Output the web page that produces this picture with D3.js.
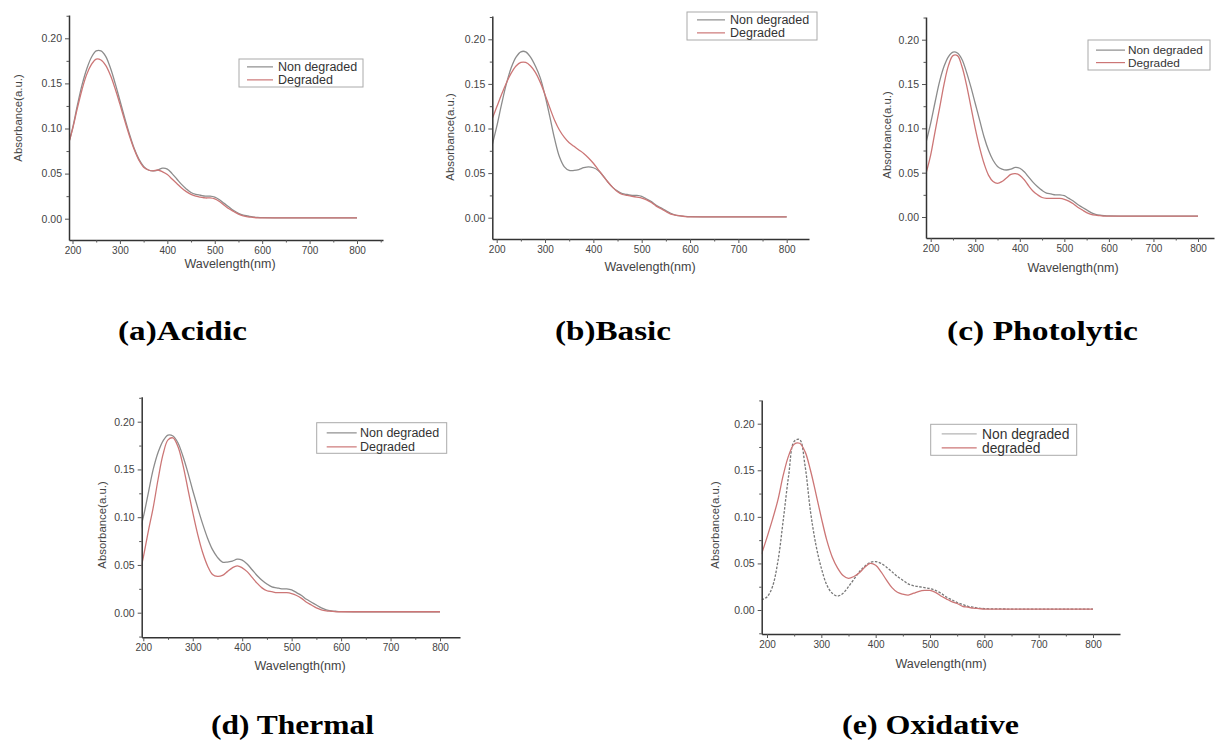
<!DOCTYPE html>
<html>
<head>
<meta charset="utf-8">
<script src="https://cdn.jsdelivr.net/npm/d3@7"></script>
<style>
  body { margin: 0; background: #fff; }
  svg { display: block; }
  .tick text { font-family: "Liberation Sans", Arial, sans-serif; fill: #444; }
</style>
</head>
<body>
<svg id="chart" width="1216" height="743"></svg>
<script>
// longueurs d'onde communes (nm)
const wl = [190, 200, 210, 220, 230, 240, 250, 260, 270, 280, 290, 300, 310, 320, 330, 340, 350, 360, 370, 380,
  390, 400, 410, 420, 430, 440, 450, 460, 470, 480, 490, 500, 510, 520, 530, 540, 550, 560, 570, 580, 590, 600,
  650, 700, 750, 800];

// absorbances
const acidicNon = [0.080, 0.100, 0.125, 0.148, 0.166, 0.179, 0.186, 0.186, 0.180, 0.167, 0.150, 0.131, 0.112, 0.094, 0.078,
  0.066, 0.058, 0.054, 0.053, 0.054, 0.056, 0.055, 0.050, 0.044, 0.038, 0.033, 0.029, 0.027, 0.026, 0.025, 0.025, 0.024,
  0.021, 0.017, 0.013, 0.009, 0.006, 0.004, 0.003, 0.002, 0.0015, 0.0012, 0.001, 0.001, 0.001, 0.001];
const acidicDeg = [0.080, 0.099, 0.122, 0.143, 0.160, 0.171, 0.177, 0.176, 0.170, 0.159, 0.144, 0.127, 0.109, 0.092, 0.077,
  0.065, 0.057, 0.054, 0.053, 0.054, 0.052, 0.049, 0.044, 0.039, 0.034, 0.030, 0.027, 0.025, 0.024, 0.023, 0.023, 0.022,
  0.019, 0.015, 0.011, 0.008, 0.005, 0.003, 0.002, 0.0015, 0.001, 0.001, 0.001, 0.001, 0.001, 0.001];

const basicNon = [0.080, 0.102, 0.127, 0.150, 0.168, 0.180, 0.186, 0.186, 0.180, 0.170, 0.157, 0.137, 0.113, 0.088, 0.068,
  0.057, 0.053, 0.053, 0.054, 0.056, 0.057, 0.056, 0.053, 0.047, 0.040, 0.034, 0.030, 0.027, 0.026, 0.025, 0.025, 0.024,
  0.021, 0.018, 0.014, 0.011, 0.008, 0.005, 0.003, 0.002, 0.0015, 0.0012, 0.001, 0.001, 0.001, 0.001];
const basicDeg = [0.110, 0.124, 0.138, 0.151, 0.162, 0.170, 0.174, 0.174, 0.170, 0.163, 0.152, 0.138, 0.123, 0.109, 0.098,
  0.090, 0.084, 0.080, 0.076, 0.072, 0.067, 0.061, 0.054, 0.047, 0.040, 0.034, 0.029, 0.026, 0.025, 0.024, 0.023, 0.022,
  0.020, 0.017, 0.013, 0.010, 0.007, 0.004, 0.003, 0.002, 0.0013, 0.001, 0.001, 0.001, 0.001, 0.001];

const photoNon = [0.085, 0.106, 0.130, 0.153, 0.170, 0.181, 0.186, 0.185, 0.178, 0.164, 0.147, 0.128, 0.109, 0.090, 0.075,
  0.064, 0.057, 0.054, 0.053, 0.054, 0.056, 0.055, 0.051, 0.045, 0.039, 0.034, 0.030, 0.027, 0.026, 0.025, 0.025, 0.024,
  0.021, 0.018, 0.014, 0.011, 0.008, 0.005, 0.003, 0.002, 0.0015, 0.0012, 0.001, 0.001, 0.001, 0.001];
const photoDeg = [0.050, 0.070, 0.097, 0.123, 0.150, 0.171, 0.182, 0.182, 0.170, 0.150, 0.125, 0.100, 0.078, 0.060, 0.047,
  0.040, 0.038, 0.040, 0.044, 0.048, 0.049, 0.047, 0.042, 0.035, 0.029, 0.025, 0.022, 0.021, 0.021, 0.021, 0.021, 0.020,
  0.018, 0.015, 0.011, 0.008, 0.005, 0.003, 0.002, 0.0015, 0.001, 0.001, 0.001, 0.001, 0.001, 0.001];

const thermalNon = [0.080, 0.100, 0.125, 0.150, 0.168, 0.180, 0.186, 0.185, 0.178, 0.164, 0.147, 0.128, 0.110, 0.093, 0.078,
  0.066, 0.058, 0.053, 0.053, 0.054, 0.056, 0.055, 0.051, 0.045, 0.039, 0.034, 0.030, 0.027, 0.026, 0.025, 0.025, 0.024,
  0.021, 0.018, 0.014, 0.011, 0.008, 0.005, 0.003, 0.002, 0.0015, 0.0012, 0.001, 0.001, 0.001, 0.001];
const thermalDeg = [0.035, 0.058, 0.085, 0.110, 0.140, 0.166, 0.181, 0.183, 0.174, 0.155, 0.130, 0.105, 0.082, 0.063, 0.049,
  0.040, 0.038, 0.039, 0.043, 0.047, 0.049, 0.047, 0.043, 0.037, 0.031, 0.026, 0.023, 0.022, 0.021, 0.021, 0.021, 0.020,
  0.018, 0.015, 0.011, 0.008, 0.005, 0.003, 0.002, 0.0015, 0.001, 0.001, 0.001, 0.001, 0.001, 0.001];

const oxidNon = [0.011, 0.014, 0.025, 0.052, 0.097, 0.145, 0.181, 0.183, 0.155, 0.106, 0.070, 0.045, 0.027, 0.018, 0.015,
  0.018, 0.025, 0.033, 0.041, 0.047, 0.051, 0.052, 0.050, 0.046, 0.041, 0.036, 0.032, 0.028, 0.026, 0.025, 0.024, 0.023,
  0.021, 0.018, 0.014, 0.011, 0.008, 0.006, 0.004, 0.003, 0.002, 0.0015, 0.001, 0.001, 0.001, 0.001];
const oxidDeg = [0.060, 0.078, 0.097, 0.118, 0.145, 0.166, 0.178, 0.179, 0.170, 0.150, 0.125, 0.099, 0.075, 0.057, 0.045,
  0.037, 0.034, 0.036, 0.040, 0.046, 0.050, 0.048, 0.041, 0.032, 0.024, 0.019, 0.017, 0.016, 0.018, 0.020, 0.021, 0.021,
  0.019, 0.015, 0.012, 0.009, 0.007, 0.004, 0.003, 0.002, 0.0015, 0.001, 0.001, 0.001, 0.001, 0.001];

const xTicks = [200, 300, 400, 500, 600, 700, 800];
const xMinor = [250, 350, 450, 550, 650, 750, 850];
const yTicks = [0, 0.05, 0.10, 0.15, 0.20];
const yMinor = [-0.025, 0.025, 0.075, 0.125, 0.175, 0.225];

const grayLine = "#8c8c8c", redLine = "#cc7676";

// disposition de chaque panneau (pixels)
const panels = [
  { non: acidicNon, deg: acidicDeg, labels: ["Non degraded", "Degraded"], title: "(a)Acidic",
    left: 69, top: 15, bottom: 240, right: 383, x200: 72.5, x800: 357, y0: 218.7, y20: 38.3,
    legend: { x: 239, y: 59, w: 124, h: 28, lx: 247, lw: 26, tx: 278, fs: 12.5, r1: 71, r2: 84 },
    xt: { x: 230, y: 268 }, yt: { x: 22, y: 118 },
    ti: { x: 118, y: 340, w: 129 } },
  { non: basicNon, deg: basicDeg, labels: ["Non degraded", "Degraded"], title: "(b)Basic",
    left: 492.3, top: 16, bottom: 239, right: 809, x200: 496.7, x800: 786.7, y0: 217.7, y20: 39.3,
    legend: { x: 687, y: 12, w: 130, h: 28, lx: 697, lw: 28, tx: 730, fs: 12.5, r1: 24, r2: 37 },
    xt: { x: 650, y: 271 }, yt: { x: 454, y: 137 },
    ti: { x: 555, y: 340, w: 116 } },
  { non: photoNon, deg: photoDeg, labels: ["Non degraded", "Degraded"], title: "(c) Photolytic",
    left: 926, top: 17, bottom: 238, right: 1214, x200: 930.7, x800: 1198, y0: 217, y20: 39.7,
    legend: { x: 1088, y: 40, w: 122, h: 30, lx: 1096, lw: 29, tx: 1128, fs: 11.8, r1: 54, r2: 66.5 },
    xt: { x: 1073, y: 272 }, yt: { x: 891, y: 135 },
    ti: { x: 947, y: 340, w: 191 } },
  { non: thermalNon, deg: thermalDeg, labels: ["Non degraded", "Degraded"], title: "(d) Thermal",
    left: 141.7, top: 396.7, bottom: 637.3, right: 460, x200: 143.3, x800: 440, y0: 612.7, y20: 421.7,
    legend: { x: 316.7, y: 422.7, w: 130, h: 30.6, lx: 326.7, lw: 30, tx: 360, fs: 12.5, r1: 437, r2: 451 },
    xt: { x: 300, y: 670 }, yt: { x: 106, y: 525 },
    ti: { x: 211, y: 734, w: 163 } },
  { non: oxidNon, deg: oxidDeg, labels: ["Non degraded", "degraded"], title: "(e) Oxidative", dashed: true,
    left: 761.7, top: 400, bottom: 634, right: 1120, x200: 767, x800: 1093, y0: 610, y20: 423.7,
    legend: { x: 930.7, y: 424.3, w: 146, h: 31, lx: 941.7, lw: 35, tx: 982, fs: 13.8, r1: 438.5, r2: 452.5 },
    xt: { x: 941, y: 668 }, yt: { x: 719, y: 525 },
    ti: { x: 842, y: 734, w: 177 } }
];

const svg = d3.select("#chart");

panels.forEach((p, i) => {
  const g = svg.append("g");

  // échelles étendues jusqu'aux bords des axes
  const x0 = d3.scaleLinear().domain([200, 800]).range([p.x200, p.x800]);
  const x = d3.scaleLinear().domain([x0.invert(p.left), x0.invert(p.right)]).range([p.left, p.right]);
  const y0 = d3.scaleLinear().domain([0, 0.2]).range([p.y0, p.y20]);
  const y = d3.scaleLinear().domain([y0.invert(p.bottom), y0.invert(p.top)]).range([p.bottom, p.top]);

  const inX = v => v >= x.domain()[0] && v <= x.domain()[1];
  const inY = v => v >= y.domain()[0] && v <= y.domain()[1];

  g.append("clipPath").attr("id", "clip" + i)
    .append("rect")
    .attr("x", p.left).attr("y", p.top)
    .attr("width", p.right - p.left).attr("height", p.bottom - p.top);

  const line = d3.line()
    .x((d, k) => x(wl[k]))
    .y(d => y(d))
    .curve(d3.curveCatmullRom.alpha(0.5));

  const curves = g.append("g").attr("clip-path", `url(#clip${i})`);
  curves.append("path")
    .attr("d", line(p.non))
    .attr("fill", "none")
    .attr("stroke", p.dashed ? "#777" : grayLine)
    .attr("stroke-width", 1.3)
    .attr("stroke-dasharray", p.dashed ? "2.5,1.5" : null);
  curves.append("path")
    .attr("d", line(p.deg))
    .attr("fill", "none")
    .attr("stroke", redLine)
    .attr("stroke-width", 1.3);

  // axes
  const xAxis = g.append("g").attr("transform", `translate(0,${p.bottom})`)
    .call(d3.axisBottom(x).tickValues(xTicks).tickSize(4).tickSizeOuter(0).tickPadding(3).tickFormat(d3.format("d")));
  g.append("g").attr("transform", `translate(0,${p.bottom})`)
    .call(d3.axisBottom(x).tickValues(xMinor.filter(inX)).tickSize(2.5).tickSizeOuter(0).tickFormat(""))
    .select(".domain").remove();
  const yAxis = g.append("g").attr("transform", `translate(${p.left},0)`)
    .call(d3.axisLeft(y).tickValues(yTicks).tickSize(4).tickSizeOuter(0).tickPadding(3).tickFormat(d3.format(".2f")));
  g.append("g").attr("transform", `translate(${p.left},0)`)
    .call(d3.axisLeft(y).tickValues(yMinor.filter(inY)).tickSize(2.5).tickSizeOuter(0).tickFormat(""))
    .select(".domain").remove();

  g.selectAll(".domain").attr("stroke", "#333").attr("stroke-width", 1.5);
  g.selectAll(".tick line").attr("stroke", "#555").attr("stroke-width", 1);
  xAxis.selectAll(".tick text").attr("font-size", 10);
  yAxis.selectAll(".tick text").attr("font-size", 10.5);

  // titres des axes
  g.append("text")
    .attr("x", p.xt.x).attr("y", p.xt.y)
    .attr("text-anchor", "middle")
    .attr("font-family", "Liberation Sans, Arial, sans-serif")
    .attr("font-size", 12.5).attr("fill", "#444")
    .text("Wavelength(nm)");
  g.append("text")
    .attr("transform", `translate(${p.yt.x},${p.yt.y}) rotate(-90)`)
    .attr("text-anchor", "middle")
    .attr("font-family", "Liberation Sans, Arial, sans-serif")
    .attr("font-size", 11.4).attr("fill", "#444")
    .text("Absorbance(a.u.)");

  // légende
  const L = p.legend;
  const lg = g.append("g");
  lg.append("rect")
    .attr("x", L.x).attr("y", L.y).attr("width", L.w).attr("height", L.h)
    .attr("fill", "#fff").attr("stroke", "#aaa").attr("stroke-width", 1);
  [[p.labels[0], p.dashed ? "#b5b5b5" : grayLine, L.r1], [p.labels[1], redLine, L.r2]].forEach(([lab, col, by]) => {
    lg.append("line")
      .attr("x1", L.lx).attr("x2", L.lx + L.lw)
      .attr("y1", by - L.fs * 0.33).attr("y2", by - L.fs * 0.33)
      .attr("stroke", col).attr("stroke-width", 1.2);
    lg.append("text")
      .attr("x", L.tx).attr("y", by)
      .attr("font-family", "Liberation Sans, Arial, sans-serif")
      .attr("font-size", L.fs).attr("fill", "#333")
      .text(lab);
  });

  // légende du panneau
  g.append("text")
    .attr("x", p.ti.x).attr("y", p.ti.y)
    .attr("font-family", "Liberation Serif, Times New Roman, serif")
    .attr("font-weight", "bold")
    .attr("font-size", 28)
    .attr("textLength", p.ti.w)
    .attr("lengthAdjust", "spacingAndGlyphs")
    .attr("fill", "#000")
    .text(p.title);
});
</script>
</body>
</html>
